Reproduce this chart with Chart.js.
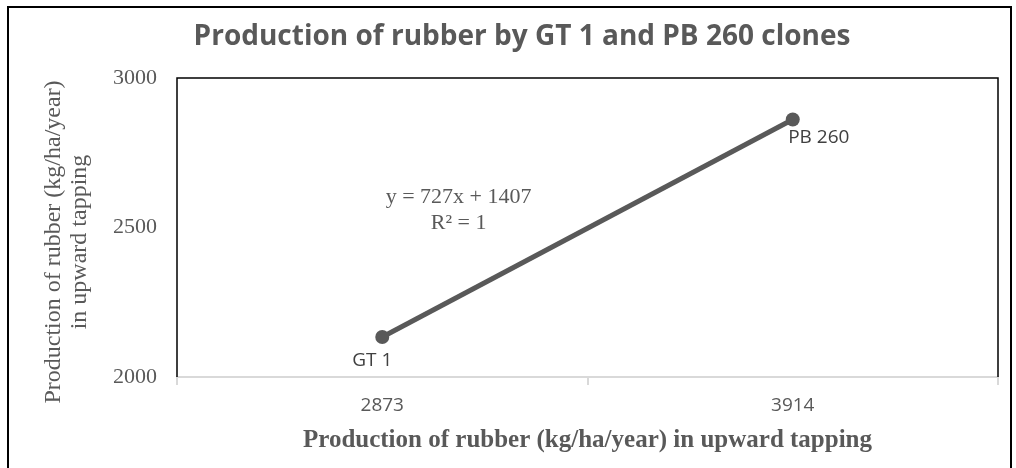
<!DOCTYPE html>
<html>
<head>
<meta charset="utf-8">
<title>Production of rubber by GT 1 and PB 260 clones</title>
<script src="https://cdn.jsdelivr.net/npm/chart.js@4"></script>
<style>
  html, body { margin: 0; padding: 0; background: #fff; }
  #wrap { position: relative; width: 1016px; height: 468px; }
  #frame {
    position: absolute; left: 7px; top: 6px; width: 1005px; height: 480px;
    border: 2px solid #000; box-sizing: border-box; pointer-events: none;
  }
</style>
</head>
<body>
<div id="wrap">
  <canvas id="rubber-chart" width="1016" height="468"></canvas>
  <div id="frame"></div>
</div>
<script>
// data
const categories = ['2873', '3914'];           // upward tapping (kg/ha/year)
const production = [2134, 2861];               // upward tapping, second axis
const clones = ['GT 1', 'PB 260'];
const yTicks = [2000, 2500, 3000];
const equation = ['y = 727x + 1407', 'R² = 1'];

const chartTitle = 'Production of rubber by GT 1 and PB 260 clones';
const yTitle = ['Production of rubber (kg/ha/year)', 'in upward tapping'];
const xTitle = 'Production of rubber (kg/ha/year) in upward tapping';

const GREY = '#595959';
const SANS = '"Open Sans", "Noto Sans", sans-serif';
const SERIF = '"Liberation Serif", "DejaVu Serif", serif';

// black frame on left / top / right of the plot area (bottom is the grey axis)
const plotFrame = {
  id: 'plotFrame',
  beforeDatasetsDraw(chart) {
    const { ctx, chartArea: a } = chart;
    ctx.save();
    ctx.strokeStyle = '#000';
    ctx.lineWidth = 1.5;
    ctx.beginPath();
    ctx.moveTo(a.left, a.bottom);
    ctx.lineTo(a.left, a.top);
    ctx.lineTo(a.right, a.top);
    ctx.lineTo(a.right, a.bottom);
    ctx.stroke();
    ctx.restore();
  }
};

// title, rotated y title, point labels and trendline equation
const chartTexts = {
  id: 'chartTexts',
  afterDatasetsDraw(chart) {
    const { ctx, chartArea: a } = chart;
    ctx.save();
    ctx.textAlign = 'center';
    ctx.textBaseline = 'middle';

    ctx.fillStyle = GREY;
    ctx.font = 'bold 28px ' + SANS;
    ctx.fillText(chartTitle, 522, 37);

    // y axis title, two lines
    ctx.font = '24px ' + SERIF;
    ctx.save();
    ctx.translate(54, 242);
    ctx.rotate(-Math.PI / 2);
    ctx.fillText(yTitle[0], 0, 0);
    ctx.fillText(yTitle[1], 0, 26);
    ctx.restore();

    // point labels
    const meta = chart.getDatasetMeta(0);
    ctx.fillStyle = '#404040';
    ctx.font = '19px ' + SANS;
    const p0 = meta.data[0], p1 = meta.data[1];
    ctx.fillText(clones[0], p0.x - 10, p0.y + 24);
    ctx.fillText(clones[1], p1.x + 26, p1.y + 18);

    // trendline equation
    ctx.fillStyle = GREY;
    ctx.font = '22px ' + SERIF;
    const ex = a.left + (a.right - a.left) * 0.343;
    const ey = a.top + (a.bottom - a.top) * 0.398;
    ctx.fillText(equation[0], ex, ey);
    ctx.fillText(equation[1], ex, ey + 26);
    ctx.restore();
  }
};

new Chart(document.getElementById('rubber-chart'), {
  type: 'line',
  data: {
    labels: categories,
    datasets: [{
      label: 'Production of rubber',
      data: production,
      borderColor: GREY,
      backgroundColor: GREY,
      borderWidth: 5,
      pointRadius: 7,
      pointBorderWidth: 0,
      pointBackgroundColor: GREY,
      tension: 0
    }]
  },
  options: {
    responsive: false,
    animation: false,
    layout: { padding: { left: 10, right: 18, top: 78, bottom: 0 } },
    plugins: {
      legend: { display: false },
      tooltip: { enabled: false },
      title: { display: false }
    },
    scales: {
      x: {
        type: 'category',
        offset: true,
        grid: { offset: true, drawOnChartArea: false, drawTicks: true, tickLength: 8, color: '#d9d9d9', lineWidth: 2 },
        border: { color: '#d9d9d9', width: 2 },
        ticks: { color: GREY, font: { family: SANS, size: 19 }, padding: 9 },
        title: {
          display: true,
          text: xTitle,
          color: GREY,
          font: { family: SERIF, size: 25, weight: 'bold' },
          padding: { top: 2, bottom: 12 }
        },
        afterFit: (s) => { s.height = 91; }
      },
      y: {
        min: yTicks[0],
        max: yTicks[yTicks.length - 1],
        afterBuildTicks: (s) => { s.ticks = yTicks.map((v) => ({ value: v })); },
        grid: { display: false, drawTicks: false },
        border: { display: false },
        ticks: {
          color: GREY,
          font: { family: SERIF, size: 22 },
          padding: 20,
          callback: (v) => String(v)
        },
        afterFit: (s) => { s.width = 167; }
      }
    }
  },
  plugins: [plotFrame, chartTexts]
});
</script>
</body>
</html>
